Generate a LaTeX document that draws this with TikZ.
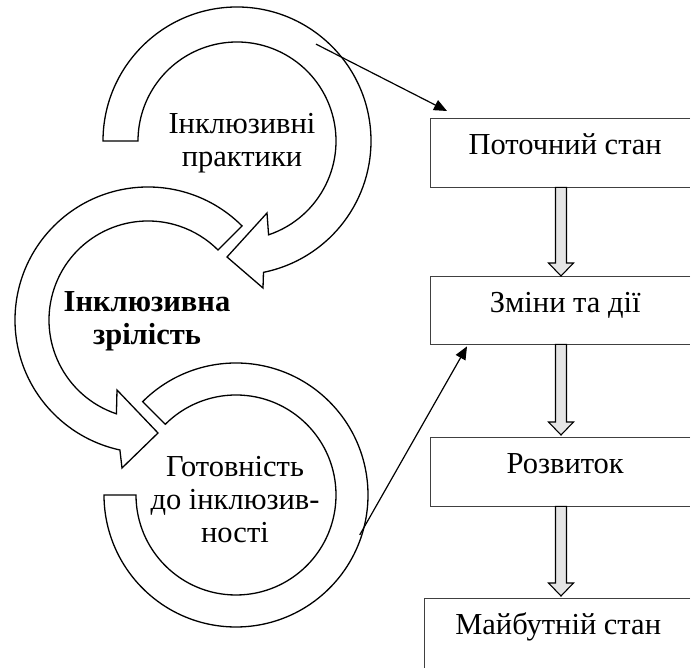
\documentclass[tikz,border=0pt]{standalone}
\usepackage{fontspec}
\setmainfont{Liberation Serif}
\usetikzlibrary{arrows.meta,calc}
\newcommand\blkarrow[2]{%
  \draw[blk] ($(#1)+(-5.5,0)$) -- ($(#2)+(-5.5,13)$) -- ($(#2)+(-12.5,13)$) -- (#2)
    -- ($(#2)+(12.5,13)$) -- ($(#2)+(5.5,13)$) -- ($(#1)+(5.5,0)$) -- cycle;}
\newcommand\openbox[1]{%
  \draw[boxline] (#1.north west -| 690,0) -- (#1.north west) -- (#1.south west) -- (#1.south west -| 690,0);}
\begin{document}
\begin{tikzpicture}[x=1pt,y=1pt,
  band/.style={draw=black,line width=1.3pt,fill=white,line join=miter},
  box/.style={rectangle,anchor=north west,
    inner sep=0pt,font=\fontsize{30.5}{33}\selectfont,text height=20pt,text depth=16pt},
  boxline/.style={draw=black!75,line width=0.9pt},
  blk/.style={draw=black,line width=1.1pt,fill=black!10,line join=miter},
  thin/.style={line width=1.2pt,-{Triangle[length=13pt,width=11pt]}},
  lbl/.style={align=center,font=\fontsize{30.5}{33}\selectfont,inner sep=0pt}]
\fill[white] (0,0) rectangle (691,668);
\useasboundingbox (0,0) rectangle (691,668);

% centres of the three circular arrows
\coordinate (C1) at (237,527);
\coordinate (C2) at (148,348);
\coordinate (C3) at (236,173);

% circular arrow 3 (bottom)
\draw[band] ($(C3)+(135:132)$) arc[start angle=135,end angle=-180,radius=132]
  -- ($(C3)+(-180:100)$) arc[start angle=-180,end angle=135,radius=100] -- cycle;
% circular arrow 2 (middle)
\draw[band] ($(C2)+(45:133)$) arc[start angle=45,end angle=257.8,radius=133]
  -- (122,200) -- (158,235) -- (117,278)
  -- ($(C2)+(251.4:99)$) arc[start angle=251.4,end angle=45,radius=99] -- cycle;
% circular arrow 1 (top)
\draw[band] ($(C1)+(180:134)$) arc[start angle=180,end angle=-78.6,radius=134]
  -- (263,380) -- (227,411) -- (267,455)
  -- ($(C1)+(-71.4:99)$) arc[start angle=-71.4,end angle=180,radius=99] -- cycle;

\node[lbl] (t1) at (242,525) {Інклюзивні\\практики};
\node[lbl,font=\fontsize{30.5}{33}\selectfont\bfseries] (t2) at (147,347) {Інклюзивна\\зрілість};
\node[lbl] (t3) at (235,168) {Готовність\\до інклюзив-\\ності};

% boxes
\node[box,minimum width=270,minimum height=69] (b1) at (430,550) {Поточний стан};
\node[box,minimum width=270,minimum height=68] (b2) at (430,392) {Зміни та дії};
\node[box,minimum width=270,minimum height=69] (b3) at (430,231) {Розвиток};
\node[box,minimum width=268,minimum height=78,text height=20pt,text depth=25pt] (b4) at (424,70) {Майбутній стан};
\openbox{b1}
\openbox{b2}
\openbox{b3}
\openbox{b4}

% block arrows
\coordinate (k1) at (b1.south -| 561,0);
\coordinate (k2) at (b2.north -| 561,0);
\coordinate (k3) at (b2.south -| 561,0);
\coordinate (k4) at ($(b3.north -| 561,0)+(0,2)$);
\coordinate (k5) at (b3.south -| 561,0);
\coordinate (k6) at ($(b4.north -| 561,0)+(0,2)$);
\blkarrow{k1}{k2}
\blkarrow{k3}{k4}
\blkarrow{k5}{k6}

% thin arrows
\coordinate (s1) at ($(C1)+(50.8:125)$);
\coordinate (e1) at ($(b1.north west)+(17,7)$);
\coordinate (s2) at ($(C3)+(-17.9:130)$);
\coordinate (e2) at ($(b2.south west)+(37,-2)$);
\draw[thin] (s1) -- (e1);
\draw[thin] (s2) -- (e2);
\end{tikzpicture}
\end{document}
